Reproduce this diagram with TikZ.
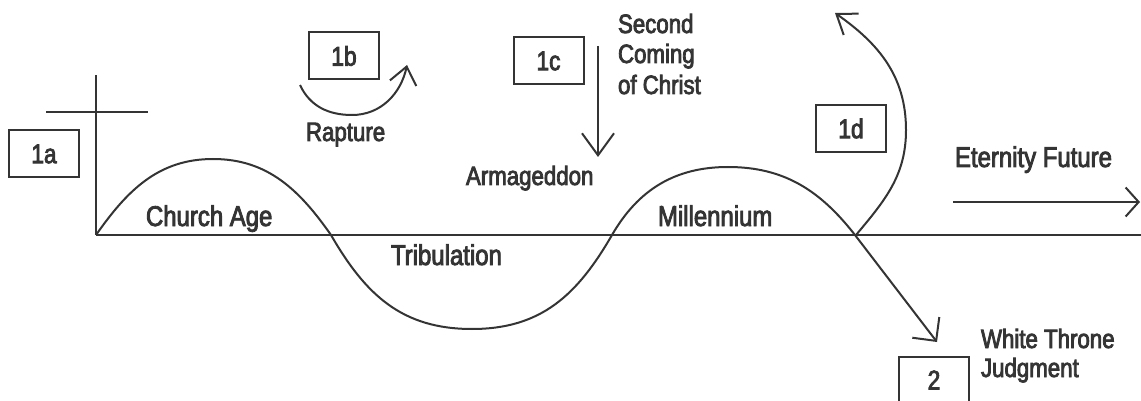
\documentclass[tikz,border=0pt]{standalone}
\usepackage{fontspec}
\setmainfont{Liberation Sans}[FakeStretch=0.84,FakeBold=3]
\usetikzlibrary{arrows.meta}
\definecolor{ink}{RGB}{52,52,52}
\begin{document}
\begin{tikzpicture}[x=1pt,y=1pt,line width=2pt,ink,
  lbl/.style={inner sep=0pt,anchor=base west,font=\fontsize{28.5}{30}\selectfont},
  lbls/.style={lbl,font=\fontsize{26.5}{30}\selectfont},
  numbox/.style={draw,line width=2pt,minimum width=70pt,minimum height=47pt,inner sep=0pt,font=\fontsize{27}{30}\selectfont},
  arr/.style 2 args={-{Straight Barb[length=#1,width=#2]}}]
\useasboundingbox (0,0) rectangle (1141,-401);
% boxes
\node[numbox] (b1a) at (44,-154) {1a};
\node[numbox] (b1b) at (344,-56) {1b};
\node[numbox] (b1c) at (548.5,-61) {1c};
\node[numbox] (b1d) at (851,-128.5) {1d};
\node[numbox] (b2) at (934,-380) {2};
% labels
\node[lbl] (church) at (145,-226) {Church Age};
\node[lbl] (trib) at (390,-265) {Tribulation};
\node[lbl] (mill) at (657,-226) {Millennium};
\node[lbls] (rapt) at (305,-141) {Rapture};
\node[lbls] (arma) at (465,-185) {Armageddon};
\node[lbls] (sc1) at (617,-33) {Second};
\node[lbls] (sc2) at (617,-63) {Coming};
\node[lbls] (sc3) at (617,-94) {of Christ};
\node[lbl] (etern) at (954,-167) {Eternity Future};
\node[lbls] (wt1) at (980,-348) {White Throne};
\node[lbls] (wt2) at (980,-377) {Judgment};
% coordinates
\coordinate (o) at (96,-235);
\coordinate (bend) at (1141,-235);
\coordinate (ctop) at (96,-75);
\coordinate (barl) at (46,-112);
\coordinate (barr) at (148,-112);
\coordinate (p1) at (213,-159);
\coordinate (x1) at (331,-235);
\coordinate (p2) at (472,-329);
\coordinate (x2) at (612,-235);
\coordinate (p3) at (728,-167);
\coordinate (x3) at (855,-235);
\coordinate (jtip) at (937,-342);
\coordinate (c1s) at (598,-46);
\coordinate (c1e) at (598,-157);
\coordinate (es) at (953,-202);
\coordinate (ee) at (1140,-202);
\coordinate (d0) at (856,-235);
\coordinate (d1) at (906,-130);
\coordinate (d2) at (835,-13);
\coordinate (r0) at (300,-85);
\coordinate (r1) at (352,-115);
\coordinate (r2) at (407,-65);
% lines
\draw (o) -- (bend);
\draw (o) -- (ctop);
\draw (barl) -- (barr);
\draw[arr={17pt}{34pt}] (o) to[out=55,in=180] (p1) to[out=0,in=125] (x1)
  to[out=-60,in=180,looseness=1.05] (p2) to[out=0,in=240,looseness=1.05] (x2)
  to[out=60,in=180] (p3) to[out=0,in=128] (x3) -- (jtip);
\draw[arr={22pt}{32pt}] (c1s) -- (c1e);
\draw[arr={13pt}{29pt}] (es) -- (ee);
\draw[arr={18pt}{26pt}] (d0) to[out=50,in=-90] (d1) to[out=90,in=-35] (d2);
\draw[arr={17pt}{27pt}] (r0) to[out=-65,in=180] (r1) to[out=0,in=-102] (r2);
\end{tikzpicture}
\end{document}
